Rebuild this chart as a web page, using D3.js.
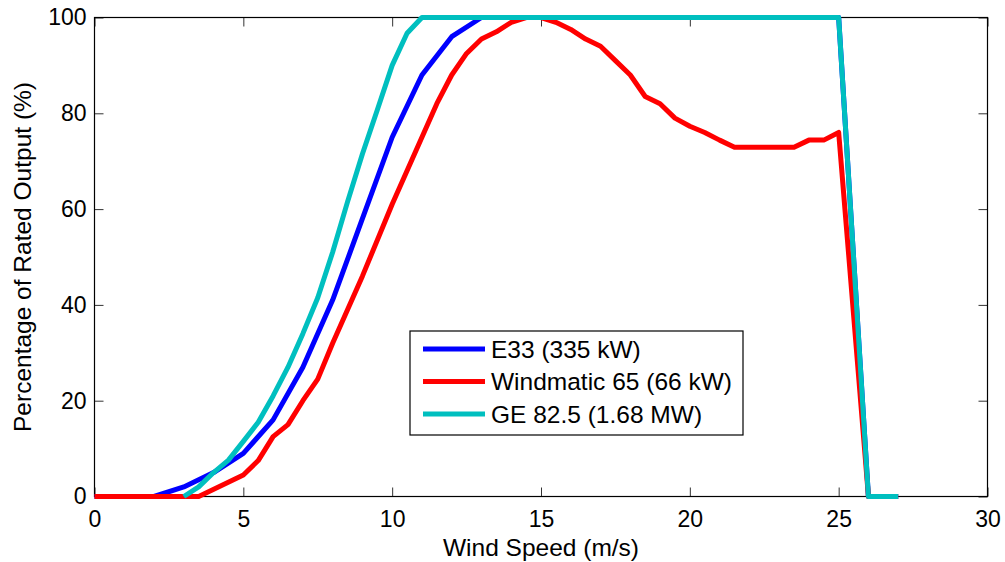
<!DOCTYPE html>
<html>
<head>
<meta charset="utf-8">
<script src="https://cdn.jsdelivr.net/npm/d3@7"></script>
<style>
  body { margin: 0; background: #fff; }
  svg { display: block; font-family: Arial, "Liberation Sans", sans-serif; }
</style>
</head>
<body>
<div id="chart"></div>
<script>
// wind speed (m/s) and % of rated output
var e33Speed = [0, 1, 2, 3, 4, 5, 6, 7, 8, 9, 10, 11, 12, 13, 25, 26, 27];
var e33Output = [0, 0, 0, 2, 5, 9, 16, 27, 41, 58, 75, 88, 96, 100, 100, 0, 0];

var windSpeed = [0, 1, 2, 3, 3.5, 5, 5.5, 6, 6.5, 7, 7.5, 8, 8.5, 9, 10, 10.5, 11, 11.5, 12, 12.5, 13, 13.5, 14,
  14.5, 15, 15.5, 16, 16.5, 17, 17.5, 18, 18.5, 19, 19.5, 20, 20.5, 21, 21.5, 22, 22.5, 23, 23.5, 24, 24.5, 25, 26, 27];
var windOutput = [0, 0, 0, 0, 0, 4.5, 7.5, 12.5, 15, 20, 24.5, 32, 39, 46, 61, 68, 75, 82, 88, 92.5, 95.5, 97, 99,
  100, 100, 99, 97.5, 95.5, 94, 91, 88, 83.5, 82, 79, 77.3, 76, 74.4, 72.9, 72.9, 72.9, 72.9, 72.9, 74.4, 74.4, 76, 0, 0];

var geSpeed = [3, 3.5, 4, 4.5, 5, 5.5, 6, 6.5, 7, 7.5, 8, 8.5, 9, 9.5, 10, 10.5, 11, 25, 26, 27];
var geOutput = [0, 2, 5, 7.6, 11.5, 15.5, 21, 27, 34, 41.5, 51, 61.5, 71.5, 80.7, 90, 96.7, 100, 100, 0, 0];

var xTicks = [0, 5, 10, 15, 20, 25, 30];
var yTicks = [0, 20, 40, 60, 80, 100];

var series = [
  { name: "E33 (335 kW)", color: "#0000ff", xs: e33Speed, ys: e33Output },
  { name: "Windmatic 65 (66 kW)", color: "#ff0000", xs: windSpeed, ys: windOutput },
  { name: "GE 82.5 (1.68 MW)", color: "#00bfbf", xs: geSpeed, ys: geOutput }
];

var W = 1005, H = 562;
var margin = { left: 94.5, right: 17.5, top: 17.5, bottom: 65.5 };
var width = W - margin.left - margin.right;
var height = H - margin.top - margin.bottom;

var svg = d3.select("#chart").append("svg")
  .attr("width", W)
  .attr("height", H);

var g = svg.append("g")
  .attr("transform", "translate(" + margin.left + "," + margin.top + ")");

var x = d3.scaleLinear().domain([0, 30]).range([0, width]);
var y = d3.scaleLinear().domain([0, 100]).range([height, 0]);

var tickLen = 9;

// axes with inward ticks, mirrored on top and right
g.append("g")
  .attr("transform", "translate(0," + height + ")")
  .call(d3.axisBottom(x).tickValues(xTicks).tickSizeInner(-tickLen).tickSizeOuter(0).tickPadding(14))
  .call(function (a) { a.select(".domain").remove(); })
  .selectAll("text").style("font-size", "23px").attr("fill", "#000");

g.append("g")
  .call(d3.axisLeft(y).tickValues(yTicks).tickSizeInner(-tickLen).tickSizeOuter(0).tickPadding(8))
  .call(function (a) { a.select(".domain").remove(); })
  .selectAll("text").style("font-size", "23px").attr("fill", "#000");

g.append("g")
  .call(d3.axisTop(x).tickValues(xTicks).tickSizeInner(-tickLen).tickSizeOuter(0).tickFormat(""))
  .call(function (a) { a.select(".domain").remove(); });

g.append("g")
  .attr("transform", "translate(" + width + ",0)")
  .call(d3.axisRight(y).tickValues(yTicks).tickSizeInner(-tickLen).tickSizeOuter(0).tickFormat(""))
  .call(function (a) { a.select(".domain").remove(); });

g.selectAll(".tick line").attr("stroke", "#333");

g.append("rect")
  .attr("width", width)
  .attr("height", height)
  .attr("fill", "none")
  .attr("stroke", "#000")
  .attr("stroke-width", 1.2);

var line = d3.line()
  .x(function (d) { return x(d[0]); })
  .y(function (d) { return y(d[1]); });

series.forEach(function (s) {
  var pts = s.xs.map(function (v, i) { return [v, s.ys[i]]; });
  g.append("path")
    .datum(pts)
    .attr("d", line)
    .attr("fill", "none")
    .attr("stroke", s.color)
    .attr("stroke-width", 5)
    .attr("stroke-linejoin", "round");
});

// axis labels
svg.append("text")
  .attr("x", margin.left + width / 2)
  .attr("y", 556)
  .attr("text-anchor", "middle")
  .style("font-size", "24.5px")
  .text("Wind Speed (m/s)");

svg.append("text")
  .attr("transform", "translate(31,257) rotate(-90)")
  .attr("text-anchor", "middle")
  .style("font-size", "24.5px")
  .text("Percentage of Rated Output (%)");

// legend
var legend = svg.append("g").attr("transform", "translate(410,331)");
legend.append("rect")
  .attr("width", 333)
  .attr("height", 104)
  .attr("fill", "#fff")
  .attr("stroke", "#000")
  .attr("stroke-width", 1.2);

series.forEach(function (s, i) {
  var ly = 18 + i * 32.5;
  legend.append("line")
    .attr("x1", 13).attr("x2", 75)
    .attr("y1", ly).attr("y2", ly)
    .attr("stroke", s.color)
    .attr("stroke-width", 5);
  legend.append("text")
    .attr("x", 81)
    .attr("y", ly + 8.5)
    .style("font-size", "24.5px")
    .text(s.name);
});
</script>
</body>
</html>
